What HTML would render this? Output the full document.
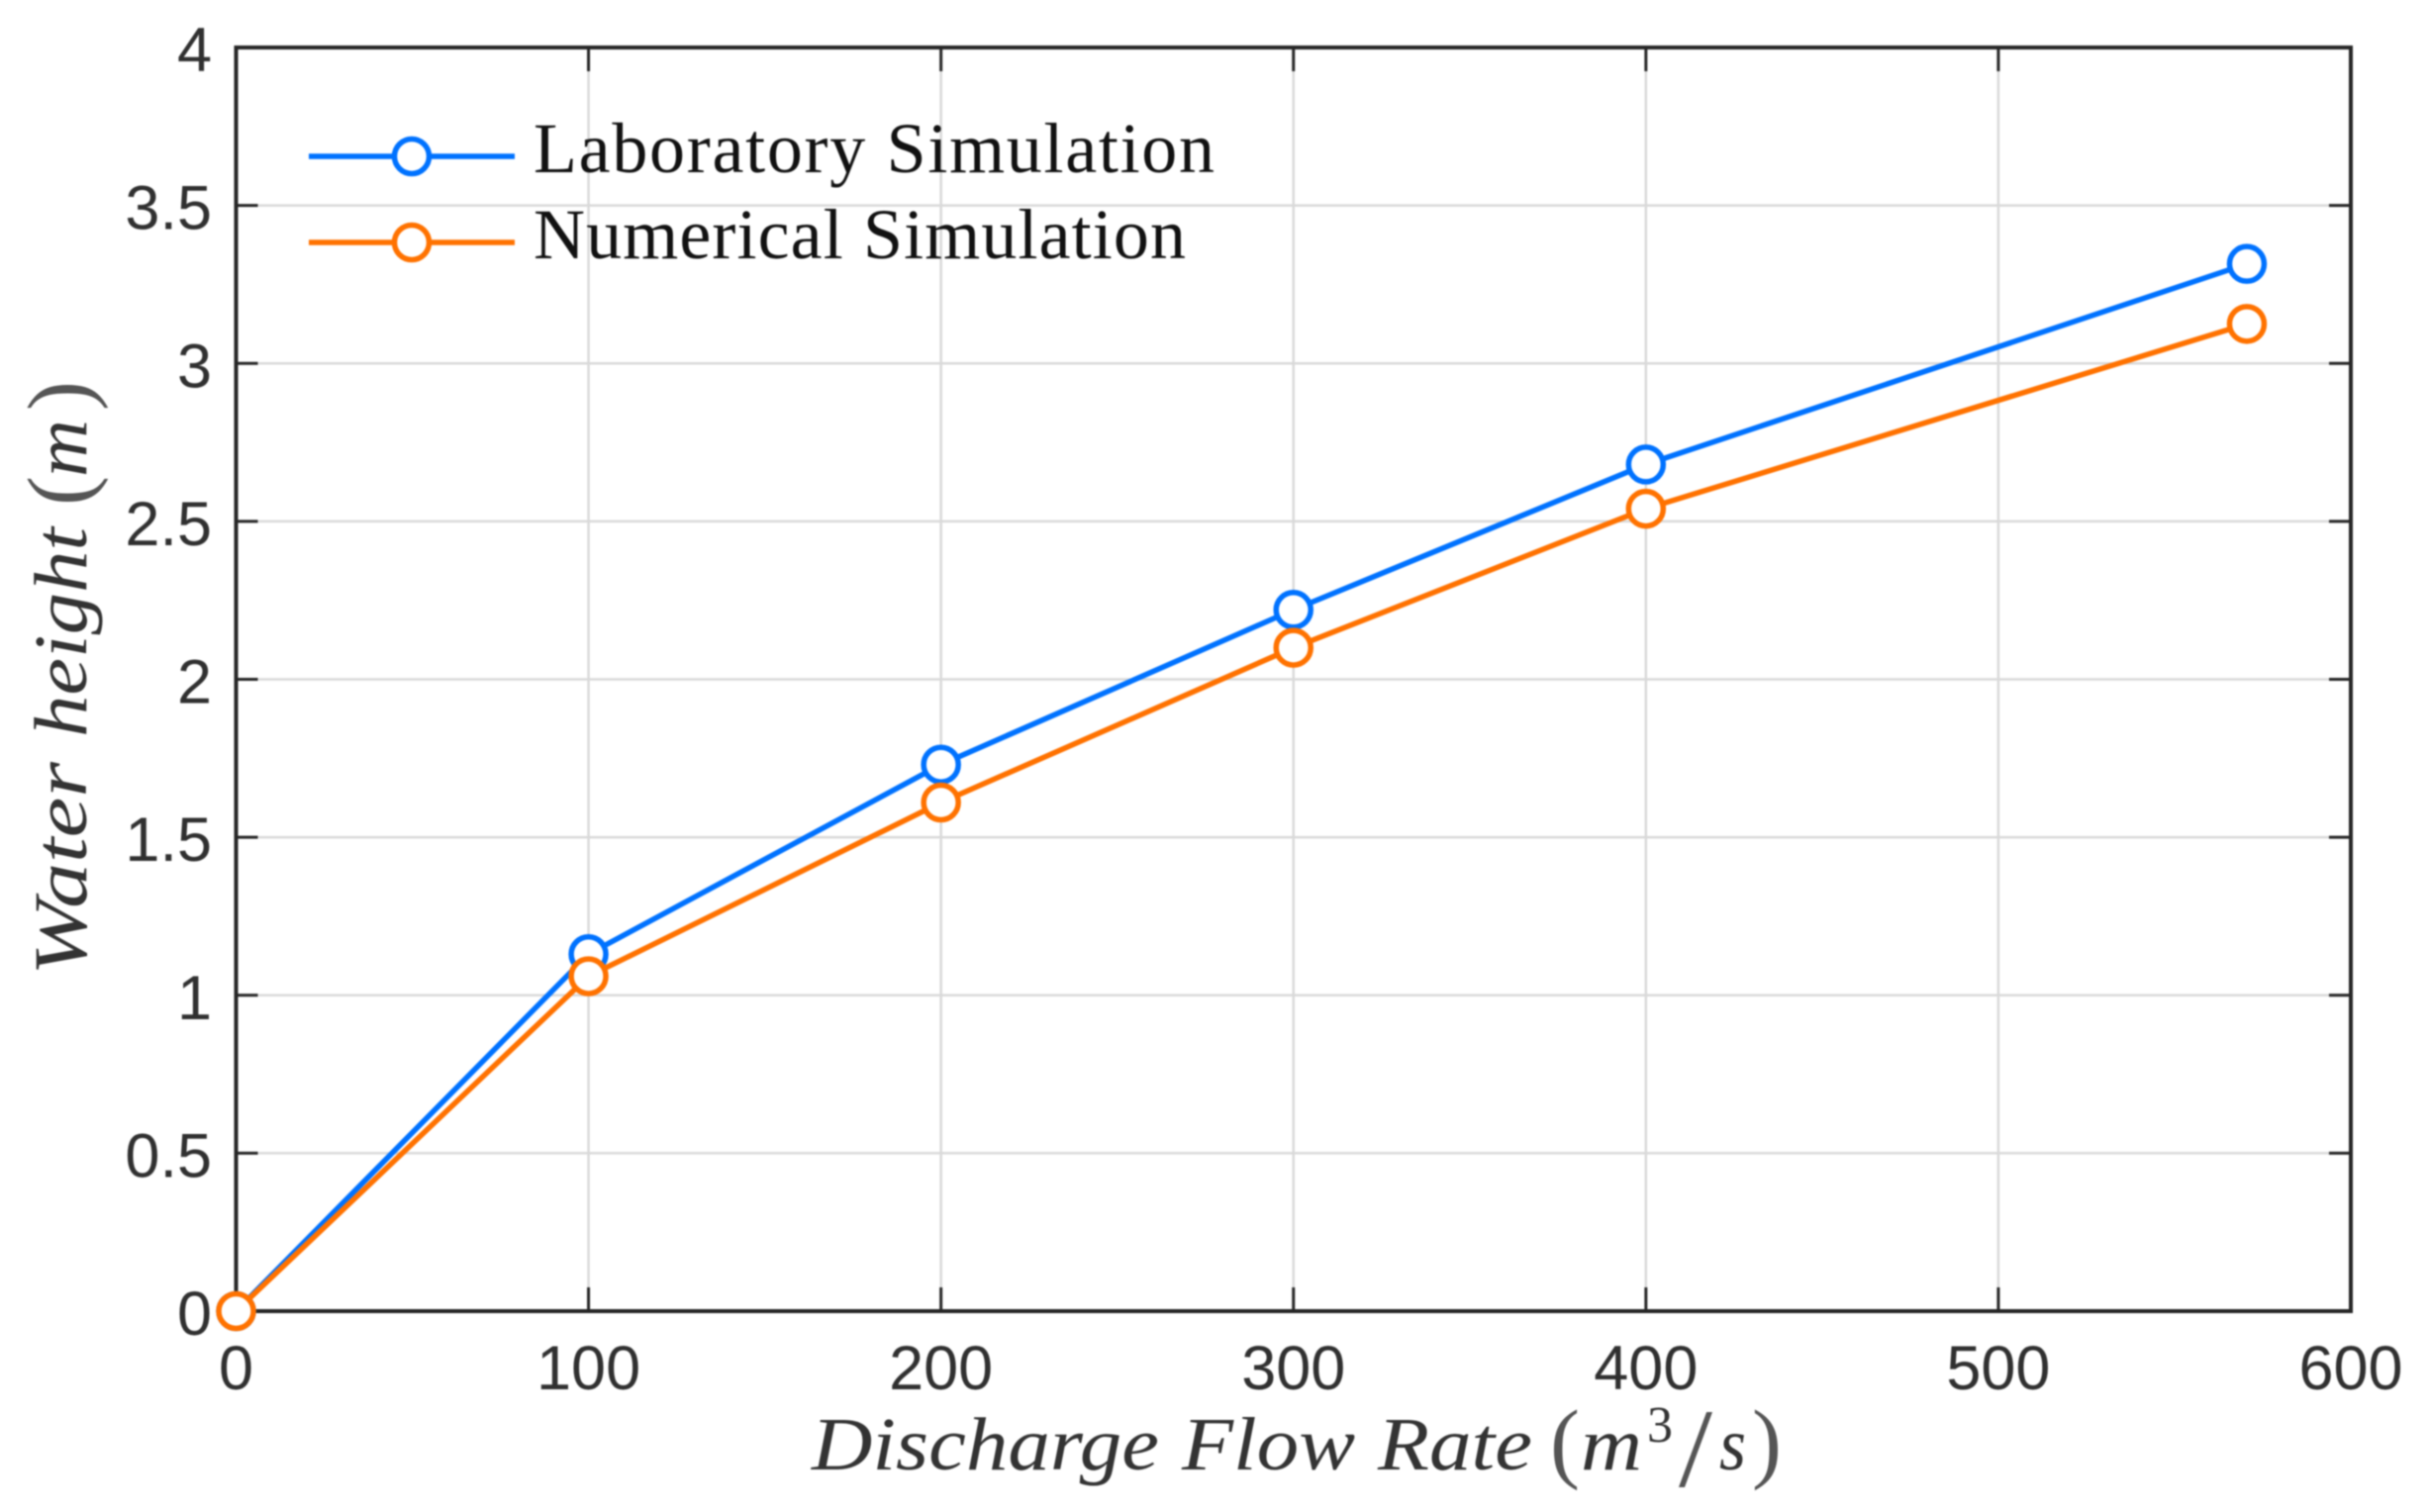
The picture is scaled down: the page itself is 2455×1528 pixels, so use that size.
<!DOCTYPE html>
<html lang="en">
<head>
<meta charset="utf-8">
<title>Water height vs discharge flow rate</title>
<style>
html,body{margin:0;padding:0;background:#fff;width:2455px;height:1528px;overflow:hidden}
svg{display:block;filter:blur(.9px)}
.tick{font-family:"Liberation Sans",sans-serif;font-size:63px;fill:#303030}
.cm{font-family:"Liberation Serif",serif;fill:#333}
.it{font-style:italic;font-size:76px}
.up{font-size:90px;fill:#555}
.leg{font-family:"Liberation Serif",serif;font-size:72px;fill:#111}
</style>
</head>
<body>
<svg id="chart" xmlns="http://www.w3.org/2000/svg" width="2455" height="1528" viewBox="0 0 2455 1528">
  <rect x="239" y="48" width="2136" height="1277" fill="#fff"/>
  <g id="grid"></g>
  <g id="ticks"></g>
  <g id="tick-labels"></g>
  <rect x="238.5" y="48" width="2136.5" height="1277" fill="none" stroke="#262626" stroke-width="4"/>
  <g id="series"></g>

  <g>
    <g>
      <line x1="312" x2="520" y1="158" y2="158" stroke="#0072ff" stroke-width="5.5"/>
      <circle cx="416" cy="158" r="17.5" fill="#fff" stroke="#0072ff" stroke-width="5.5"/>
      <text class="leg" x="539" y="174" textLength="688" lengthAdjust="spacing">Laboratory Simulation</text>
    </g>
    <g>
      <line x1="312" x2="520" y1="245" y2="245" stroke="#ff7200" stroke-width="5.5"/>
      <circle cx="416" cy="245" r="17.5" fill="#fff" stroke="#ff7200" stroke-width="5.5"/>
      <text class="leg" x="539" y="261" textLength="659" lengthAdjust="spacing">Numerical Simulation</text>
    </g>
  </g>

  <g>
    <text class="cm it" x="820" y="1485" textLength="351" lengthAdjust="spacingAndGlyphs">Discharge</text>
    <text class="cm it" x="1194" y="1485" textLength="175" lengthAdjust="spacingAndGlyphs">Flow</text>
    <text class="cm it" x="1392" y="1485" textLength="156" lengthAdjust="spacingAndGlyphs">Rate</text>
    <text class="cm up" x="1566" y="1487">(</text>
    <text class="cm it" x="1597" y="1485" textLength="62" lengthAdjust="spacingAndGlyphs">m</text>
    <text class="cm" style="font-size:52px" x="1664" y="1457">3</text>
    <text class="cm up" style="font-size:113px" x="1696" y="1502" textLength="34" lengthAdjust="spacingAndGlyphs">/</text>
    <text class="cm it" x="1737" y="1485" textLength="27" lengthAdjust="spacingAndGlyphs">s</text>
    <text class="cm up" x="1770" y="1487">)</text>
  </g>

  <g transform="translate(87,0) rotate(-90)">
    <text class="cm it" x="-986" y="0" textLength="216" lengthAdjust="spacingAndGlyphs">Water</text>
    <text class="cm it" x="-745" y="0" textLength="212" lengthAdjust="spacingAndGlyphs">height</text>
    <text class="cm up" x="-511" y="3">(</text>
    <text class="cm it" x="-482" y="0" textLength="58" lengthAdjust="spacingAndGlyphs">m</text>
    <text class="cm up" x="-415" y="3">)</text>
  </g>
</svg>
<script>
const xTickValues = [0, 100, 200, 300, 400, 500, 600];
const yTickValues = [0, 0.5, 1, 1.5, 2, 2.5, 3, 3.5, 4];
const xTickLabels = ['0', '100', '200', '300', '400', '500', '600'];
const yTickLabels = ['0', '0.5', '1', '1.5', '2', '2.5', '3', '3.5', '4'];
const flowRates = [0, 100, 200, 300, 400, 570.5];
const laboratoryHeights = [0, 1.13, 1.73, 2.22, 2.68, 3.315];
const numericalHeights = [0, 1.06, 1.61, 2.10, 2.54, 3.125];

const NS = 'http://www.w3.org/2000/svg';
const plot = { left: 238.5, right: 2375, top: 48, bottom: 1325 };
const xMax = 600;
const yMax = 4;
const xScale = function (v) { return plot.left + (v / xMax) * (plot.right - plot.left); };
const yScale = function (v) { return plot.bottom - (v / yMax) * (plot.bottom - plot.top); };

function make(tag, parent, attrs) {
  const el = document.createElementNS(NS, tag);
  Object.keys(attrs).forEach(function (k) { el.setAttribute(k, attrs[k]); });
  parent.appendChild(el);
  return el;
}

const gridGroup = document.getElementById('grid');
const tickGroup = document.getElementById('ticks');
const labelGroup = document.getElementById('tick-labels');
const seriesGroup = document.getElementById('series');
const GRID = '#d9d9d9';
const INK = '#262626';

xTickValues.forEach(function (v, i) {
  const x = xScale(v);
  if (i > 0 && i < xTickValues.length - 1) {
    const g = make('line', gridGroup, { x1: x, x2: x, y1: plot.top, y2: plot.bottom, stroke: GRID, 'stroke-width': 2.5 });
    
    
    const t1 = make('line', tickGroup, { x1: x, x2: x, y1: plot.bottom, y2: plot.bottom - 24, stroke: INK, 'stroke-width': 3 });
    
    
    const t2 = make('line', tickGroup, { x1: x, x2: x, y1: plot.top, y2: plot.top + 24, stroke: INK, 'stroke-width': 3 });
    
    
  }
  const lab = make('text', labelGroup, { x: x, y: 1404, 'text-anchor': 'middle', class: 'tick' });
  
  
  lab.textContent = xTickLabels[i];
});

yTickValues.forEach(function (v, i) {
  const y = yScale(v);
  if (i > 0 && i < yTickValues.length - 1) {
    const g = make('line', gridGroup, { x1: plot.left, x2: plot.right, y1: y, y2: y, stroke: GRID, 'stroke-width': 2.5 });
    
    
    const t1 = make('line', tickGroup, { x1: plot.left, x2: plot.left + 22, y1: y, y2: y, stroke: INK, 'stroke-width': 3 });
    
    
    const t2 = make('line', tickGroup, { x1: plot.right, x2: plot.right - 22, y1: y, y2: y, stroke: INK, 'stroke-width': 3 });
    
    
  }
  const lab = make('text', labelGroup, { x: 214, y: y + 24, 'text-anchor': 'end', class: 'tick' });
  
  
  lab.textContent = yTickLabels[i];
});

function drawSeries(xs, ys, color, key) {
  const g = make('g', seriesGroup, {});
  
  
  const pts = xs.map(function (x, i) { return xScale(x) + ',' + yScale(ys[i]); }).join(' ');
  const line = make('polyline', g, { points: pts, fill: 'none', stroke: color, 'stroke-width': 5.5, 'stroke-linejoin': 'round' });
  
  
  xs.forEach(function (x, i) {
    const c = make('circle', g, { cx: xScale(x), cy: yScale(ys[i]), r: 17.5, fill: '#fff', stroke: color, 'stroke-width': 5.5 });
    
    
  });
}

drawSeries(flowRates, laboratoryHeights, '#0072ff', 'laboratory');
drawSeries(flowRates, numericalHeights, '#ff7200', 'numerical');
</script>
</body>
</html>
